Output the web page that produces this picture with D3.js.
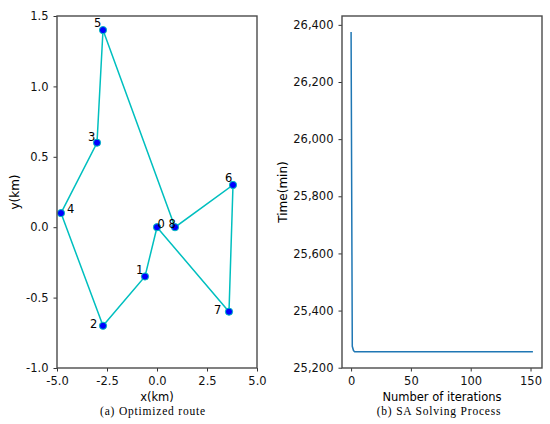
<!DOCTYPE html>
<html>
<head>
<meta charset="utf-8">
<script src="https://cdn.jsdelivr.net/npm/d3@7"></script>
<style>
  body { margin: 0; background: #fff; }
  svg text { font-family: "DejaVu Sans", sans-serif; }
  svg text.caption { font-family: "Liberation Serif", "Times New Roman", serif; }
</style>
</head>
<body>
<svg id="chart" width="550" height="424"></svg>
<script>
// route plot data (node id, x, y in km)
var nodeIds = [0, 1, 2, 3, 4, 5, 6, 7, 8];
var nodeX = [0.0, -0.6, -2.7, -3.0, -4.8, -2.7, 3.8, 3.6, 0.9];
var nodeY = [0.0, -0.35, -0.7, 0.6, 0.1, 1.4, 0.3, -0.6, 0.0];
var routeOrder = [0, 1, 2, 4, 3, 5, 8, 6, 7, 0];
var routeXTicks = [-5.0, -2.5, 0.0, 2.5, 5.0];
var routeYTicks = [-1.0, -0.5, 0.0, 0.5, 1.0, 1.5];

// SA convergence data
var iterations = [0, 1, 2, 3, 152];
var times = [26375, 25275, 25260, 25256, 25256];
var iterTicks = [0, 50, 100, 150];
var timeTicks = [25200, 25400, 25600, 25800, 26000, 26200, 26400];

// label offsets in px (style only)
var labelOff = {
  0: [0.5, 0.5], 1: [-9, -2], 2: [-13, 2], 3: [-9, -2], 4: [6, 0],
  5: [-9, -3], 6: [-8, -3], 7: [-15, 2], 8: [-6.5, 0.5]
};

var svg = d3.select('#chart');
var plotTop = 16, plotBottom = 368;
var fmt1 = function (d) { return d.toFixed(1); };

// ---------- left panel ----------
var x1 = d3.scaleLinear().domain([-5, 5]).range([57, 257]);
var y1 = d3.scaleLinear().domain([-1, 1.5]).range([plotBottom, plotTop]);

var g1 = svg.append('g');

g1.append('g')
  .attr('transform', 'translate(0,' + plotBottom + ')')
  .call(d3.axisBottom(x1).tickValues(routeXTicks).tickFormat(fmt1).tickSize(3.5).tickPadding(5.5));
g1.append('g')
  .attr('transform', 'translate(57,0)')
  .call(d3.axisLeft(y1).tickValues(routeYTicks).tickFormat(fmt1).tickSize(3.5).tickPadding(5));

var pts = nodeIds.map(function (id, i) { return {id: id, x: nodeX[i], y: nodeY[i]}; });
var route = routeOrder.map(function (id) { return pts[id]; });

var line1 = d3.line().x(function (d) { return x1(d.x); }).y(function (d) { return y1(d.y); });
g1.append('path')
  .attr('d', line1(route))
  .attr('fill', 'none')
  .attr('stroke', '#00bfbf')
  .attr('stroke-width', 1.5);

g1.selectAll('circle.node').data(pts).enter().append('circle')
  .attr('cx', function (d) { return x1(d.x); })
  .attr('cy', function (d) { return y1(d.y); })
  .attr('r', 3.6)
  .attr('fill', '#0000ff')
  .attr('stroke', '#00bfbf')
  .attr('stroke-width', 1);

g1.selectAll('text.lbl').data(pts).enter().append('text')
  .attr('x', function (d) { return x1(d.x) + labelOff[d.id][0]; })
  .attr('y', function (d) { return y1(d.y) + labelOff[d.id][1]; })
  .attr('font-size', 11.5)
  .attr('fill', '#000')
  .text(function (d) { return d.id; });

g1.append('rect')
  .attr('x', 57).attr('y', plotTop).attr('width', 200).attr('height', plotBottom - plotTop)
  .attr('fill', 'none').attr('stroke', '#4a4a4a').attr('stroke-width', 1.4);

g1.append('text').attr('x', 157).attr('y', 401).attr('text-anchor', 'middle')
  .attr('font-size', 11.5).text('x(km)');
g1.append('text').attr('transform', 'translate(19,' + ((plotTop + plotBottom) / 2) + ') rotate(-90)')
  .attr('text-anchor', 'middle').attr('font-size', 12).text('y(km)');
g1.append('text').attr('class', 'caption').attr('x', 153).attr('y', 415).attr('text-anchor', 'middle')
  .attr('font-size', 11.5).attr('letter-spacing', 0.8).text('(a) Optimized route');

// ---------- right panel ----------
var x2 = d3.scaleLinear().domain([-7.6, 159.6]).range([342, 542]);
var y2 = d3.scaleLinear().domain([25199, 26431]).range([plotBottom, plotTop]);

var g2 = svg.append('g');
g2.append('g')
  .attr('transform', 'translate(0,' + plotBottom + ')')
  .call(d3.axisBottom(x2).tickValues(iterTicks).tickSize(3.5).tickPadding(5.5));
g2.append('g')
  .attr('transform', 'translate(342,0)')
  .call(d3.axisLeft(y2).tickValues(timeTicks).tickFormat(d3.format(',')).tickSize(3.5).tickPadding(5));

var conv = iterations.map(function (it, i) { return {it: it, t: times[i]}; });
var line2 = d3.line().x(function (d) { return x2(d.it); }).y(function (d) { return y2(d.t); });
g2.append('path')
  .attr('d', line2(conv))
  .attr('fill', 'none')
  .attr('stroke', '#1f77b4')
  .attr('stroke-width', 1.5);

g2.append('rect')
  .attr('x', 342).attr('y', plotTop).attr('width', 200).attr('height', plotBottom - plotTop)
  .attr('fill', 'none').attr('stroke', '#4a4a4a').attr('stroke-width', 1.4);

g2.append('text').attr('x', 442).attr('y', 401).attr('text-anchor', 'middle')
  .attr('font-size', 11.5).text('Number of iterations');
g2.append('text').attr('transform', 'translate(287,' + ((plotTop + plotBottom) / 2) + ') rotate(-90)')
  .attr('text-anchor', 'middle').attr('font-size', 12).text('Time(min)');
g2.append('text').attr('class', 'caption').attr('x', 439).attr('y', 415).attr('text-anchor', 'middle')
  .attr('font-size', 11.5).attr('letter-spacing', 0.8).text('(b) SA Solving Process');

// axis styling like matplotlib
svg.selectAll('.domain').attr('stroke', 'none');
svg.selectAll('.tick line').attr('stroke', '#333');
svg.selectAll('.tick text').attr('font-size', 11.5).attr('fill', '#111');
</script>
</body>
</html>
